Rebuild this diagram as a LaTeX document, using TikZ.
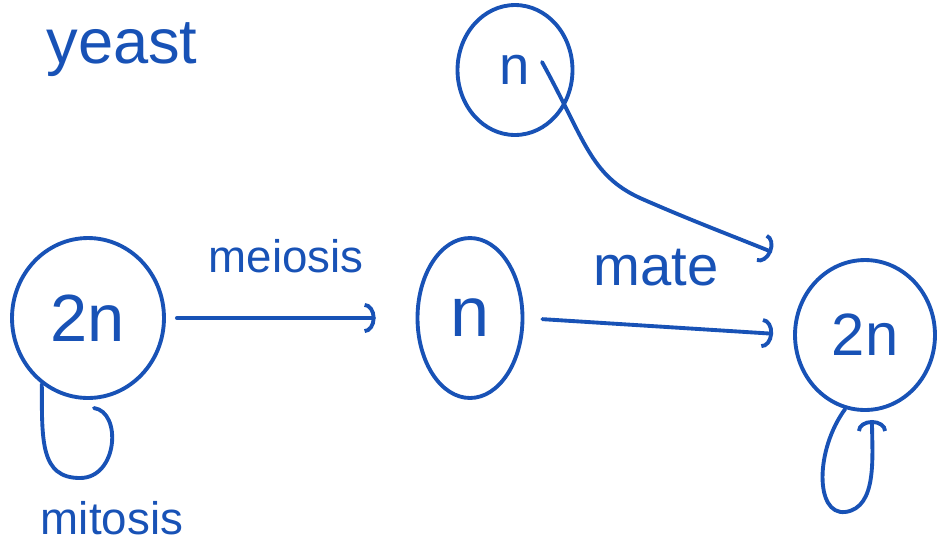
\documentclass[tikz,border=0pt]{standalone}
\usepackage{fontspec}
\setmainfont{Liberation Sans}
\usepackage{tikz}
\usetikzlibrary{shapes.geometric,arrows.meta,calc}
\definecolor{ink}{RGB}{24,82,182}
\tikzset{
cell/.style={ellipse,draw=ink,line width=2.2pt,inner sep=0pt,text=ink},
pen/.style={draw=ink,line width=2.2pt,line cap=round,line join=round},
flow/.style={pen,-{Arc Barb[length=2.2mm,width=6mm]}},
tag/.style={text=ink,inner sep=0pt}
}

\begin{document}
\begin{tikzpicture}[x=0.02cm,y=-0.02cm]
\useasboundingbox (0,0) rectangle (939,549);
\node[tag,font=\fontsize{36}{40}\selectfont] (yeast) at (122,50) {yeast};
\node[cell,minimum width=3.04cm,minimum height=3.2cm,font=\fontsize{38}{42}\selectfont] (l2n) at (88,318) {2n};
\node[cell,minimum width=2.1cm,minimum height=3.2cm,font=\fontsize{40}{44}\selectfont] (mn) at (470,318) {n};
\node[cell,minimum width=2.3cm,minimum height=2.6cm,font=\fontsize{31}{34}\selectfont] (tn) at (515,70) {n};
\node[cell,minimum width=2.8cm,minimum height=3.0cm,font=\fontsize{34}{38}\selectfont] (r2n) at (865,335) {2n};
% transitions
\draw[flow,shorten <=0.22cm,shorten >=0.8cm] (l2n.east) -- (mn.west);
\node[tag,font=\fontsize{26}{30}\selectfont] (meio) at (286,256) {meiosis};
\draw[flow,shorten <=0.36cm,shorten >=0.4cm] (mn.east) -- (r2n.west);
\node[tag,font=\fontsize{32}{36}\selectfont] (mate) at (656,268) {mate};
\coordinate (mateend) at (772,252);
\draw[flow] ($(tn.center)+(27,-8)$) .. controls (585,140) and (590,175) .. (640,198)
  .. controls (690,220) and (730,235) .. (mateend);
% self loops
\coordinate (mitend) at (94,408);
\draw[pen] (l2n.235) .. controls (42,440) and (40,478) .. (80,478)
  .. controls (118,478) and (122,412) .. (mitend);
\node[tag,font=\fontsize{26}{30}\selectfont] (mito) at (112,518) {mitosis};
\coordinate (loopend) at (872,420);
\draw[flow] (r2n.255) .. controls (815,450) and (815,515) .. (845,512)
  .. controls (878,508) and (872,455) .. (loopend);
\end{tikzpicture}
\end{document}
